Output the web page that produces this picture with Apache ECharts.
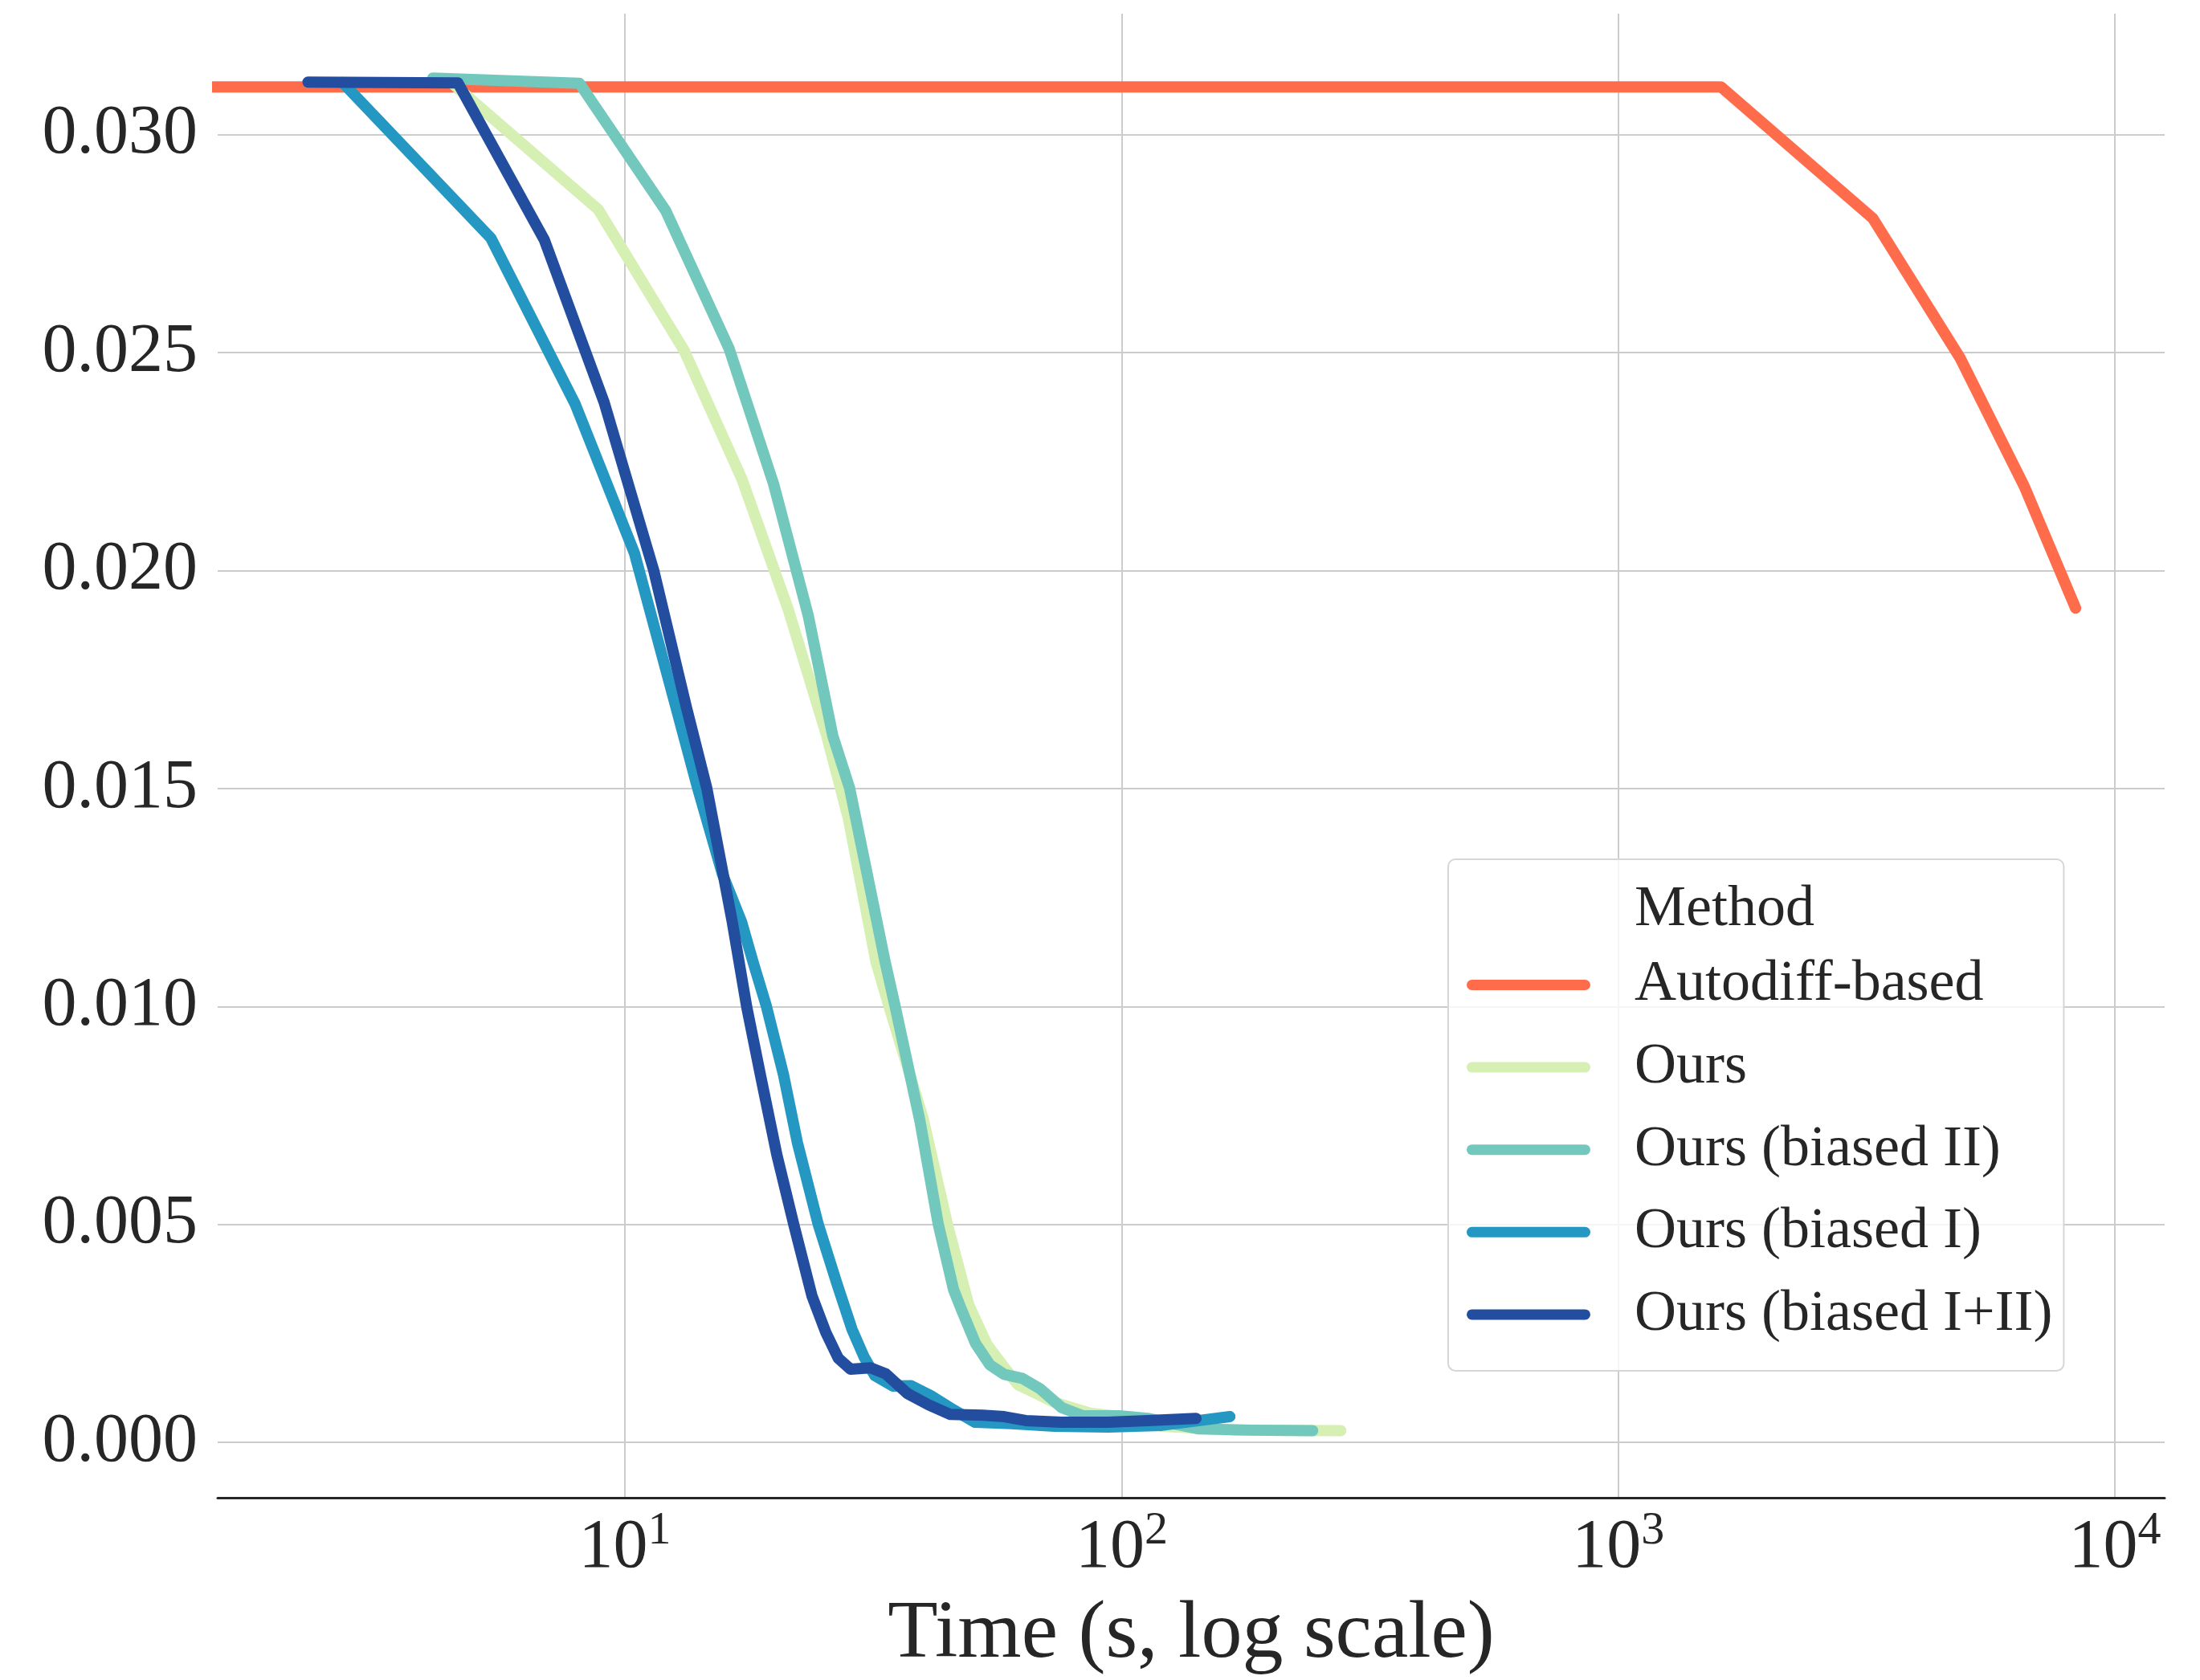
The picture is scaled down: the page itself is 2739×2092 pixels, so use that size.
<!DOCTYPE html>
<html>
<head>
<meta charset="utf-8">
<title>Loss vs. time</title>
<script src="https://cdn.jsdelivr.net/npm/echarts@6/dist/echarts.min.js"></script>
<style>
  html, body { margin: 0; padding: 0; background: #ffffff; }
  #chart { width: 2739px; height: 2092px; }
</style>
</head>
<body>
<div id="chart"></div>
<script>
// Method names, in legend / drawing order
const methods = ['Autodiff-based', 'Ours', 'Ours (biased II)', 'Ours (biased I)', 'Ours (biased I+II)'];

// Autodiff-based
const timeAutodiff = [1, 1611, 3258, 4886, 6575, 8337];
const lossAutodiff = [0.0311, 0.0311, 0.02808, 0.02487, 0.02193, 0.01914];

// Ours
const timeOurs = [4.45, 8.83, 13.16, 17.2, 21.33, 25.47, 28.17, 32.02, 34.02, 39.8, 44.6, 49.2, 53.6, 58.4, 61.9, 66.3, 73.2, 86.4, 102.1, 120.4, 168.2, 276.3];
const lossOurs = [0.03122, 0.02829, 0.02505, 0.0221, 0.0191, 0.01622, 0.01432, 0.01103, 0.0100, 0.00745, 0.0050, 0.00316, 0.00224, 0.00168, 0.00132, 0.00116, 0.00092, 0.00067, 0.00058, 0.00037, 0.00028, 0.00027];

// Ours (biased II)
const timeBiasedII = [4.1, 8.1, 12.08, 16.2, 19.92, 23.4, 26.2, 28.35, 33.4, 35.0, 39.25, 42.75, 45.87, 47.5, 50.8, 54.26, 58.0, 63.05, 68.5, 75.7, 83.6, 98.8, 112.8, 142.4, 182.7, 242.5];
const lossBiasedII = [0.0313, 0.03118, 0.02826, 0.0251, 0.02199, 0.01896, 0.01622, 0.0150, 0.01103, 0.0100, 0.00738, 0.0050, 0.00351, 0.00307, 0.00227, 0.00178, 0.00156, 0.00147, 0.00123, 0.0008, 0.00061, 0.00061, 0.00055, 0.00031, 0.00028, 0.00027];

// Ours (biased I)
const timeBiasedI = [2.70, 5.37, 7.94, 10.45, 12.68, 14.0, 15.7, 17.16, 18.1, 19.27, 20.86, 22.24, 24.5, 26.7, 28.66, 30.3, 31.85, 34.64, 37.66, 41.6, 45.96, 50.7, 60.0, 73.2, 94.0, 120.4, 165.2];
const lossBiasedI = [0.0312, 0.02763, 0.02382, 0.0204, 0.01685, 0.01502, 0.01305, 0.01195, 0.01103, 0.0100, 0.00843, 0.00688, 0.0050, 0.00365, 0.00259, 0.00196, 0.00153, 0.00129, 0.0013, 0.00105, 0.00074, 0.00046, 0.00043, 0.00037, 0.00035, 0.00039, 0.00059];

// Ours (biased I+II)
const timeBiasedI_II = [2.30, 4.61, 6.88, 9.08, 11.43, 13.3, 14.62, 16.44, 17.58, 18.74, 20.22, 21.87, 23.8, 25.38, 26.88, 28.46, 31.22, 33.53, 37.05, 40.88, 45.2, 52.45, 58.0, 64.1, 75.6, 94.0, 112.8, 141.2];
const lossBiasedI_II = [0.03121, 0.03119, 0.02759, 0.02386, 0.0200, 0.01686, 0.0150, 0.01195, 0.0100, 0.00843, 0.0066, 0.0050, 0.00336, 0.00252, 0.00193, 0.00168, 0.00171, 0.00157, 0.00112, 0.00086, 0.00064, 0.000625, 0.00059, 0.0005, 0.00046, 0.00046, 0.0005, 0.00055];

// Axis ranges
const timeMin = 1.513;
const timeMax = 12600;
const lossMin = -0.00127;
const lossMax = 0.03278;
const lossStep = 0.005;

const xAxisName = 'Time (s, log scale)';
const legendTitle = 'Method';

const colors = ['#ff6c4c', '#d6efb3', '#73c8bd', '#2498c2', '#234ea0'];
const FONT = '"Liberation Serif", "Times New Roman", serif';
const INK = '#262626';

const times = [timeAutodiff, timeOurs, timeBiasedII, timeBiasedI, timeBiasedI_II];
const losses = [lossAutodiff, lossOurs, lossBiasedII, lossBiasedI, lossBiasedI_II];

function pairs(xs, ys) {
  return xs.map(function (x, i) { return [x, ys[i]]; });
}

const series = methods.map(function (name, i) {
  return {
    name: name,
    type: 'line',
    data: pairs(times[i], losses[i]),
    symbol: 'none',
    showSymbol: false,
    clip: true,
    itemStyle: { color: colors[i], borderWidth: 0 },
    lineStyle: { color: colors[i], width: 14, cap: 'round', join: 'round' },
    emphasis: { disabled: true },
    z: 2 + i
  };
});

// rounded bar used as the legend swatch
const swatch = 'path://M6.5,0H147.5A6.5,6.5,0,0,1,147.5,13H6.5A6.5,6.5,0,0,1,6.5,0Z';

const chart = echarts.init(document.getElementById('chart'), null, { renderer: 'canvas' });

chart.setOption({
  animation: false,
  backgroundColor: '#ffffff',
  grid: { left: 271, right: 44, top: 17, bottom: 223, containLabel: false },
  title: {
    text: legendTitle,
    left: 2035,
    top: 1097,
    padding: 0,
    textStyle: { fontFamily: FONT, fontSize: 72, fontWeight: 'normal', color: INK, lineHeight: 72 }
  },
  legend: {
    data: methods,
    orient: 'vertical',
    left: 1803,
    top: 1070,
    padding: [110.5, 14, 24, 23],
    itemWidth: 154,
    itemHeight: 13,
    itemGap: 10.6,
    icon: swatch,
    itemStyle: { borderWidth: 0 },
    selectedMode: false,
    backgroundColor: 'rgba(255,255,255,0.8)',
    borderColor: '#d6d6d6',
    borderWidth: 2,
    borderRadius: 9,
    textStyle: { fontFamily: FONT, fontSize: 72, color: INK, lineHeight: 72, padding: [20, 0, 0, 50] }
  },
  xAxis: {
    type: 'log',
    logBase: 10,
    min: timeMin,
    max: timeMax,
    name: xAxisName,
    nameLocation: 'middle',
    nameGap: 120,
    nameTextStyle: { fontFamily: FONT, fontSize: 102, color: INK, lineHeight: 102 },
    axisLine: { show: true, onZero: false, lineStyle: { color: INK, width: 3 } },
    axisTick: { show: false },
    splitLine: { show: true, showMinLine: false, showMaxLine: false, lineStyle: { color: '#cccccc', width: 2 } },
    minorTick: { show: false },
    axisLabel: {
      margin: 13,
      showMinLabel: false,
      showMaxLabel: false,
      formatter: function (value) {
        const e = Math.round(Math.log(value) / Math.LN10);
        return '{base|10}{exp|' + e + '}';
      },
      rich: {
        base: { fontFamily: FONT, fontSize: 86, color: INK, lineHeight: 100 },
        exp: { fontFamily: FONT, fontSize: 58, color: INK, lineHeight: 30, verticalAlign: 'top' }
      }
    }
  },
  yAxis: {
    type: 'value',
    min: lossMin,
    max: lossMax,
    splitNumber: 5,
    minInterval: lossStep,
    maxInterval: lossStep,
    axisLine: { show: false },
    axisTick: { show: false },
    splitLine: { show: true, showMinLine: false, showMaxLine: false, lineStyle: { color: '#cccccc', width: 2 } },
    axisLabel: {
      margin: 25,
      showMinLabel: false,
      showMaxLabel: false,
      fontFamily: FONT,
      fontSize: 86,
      color: INK,
      padding: [12, 0, 0, 0],
      formatter: function (v) { return v.toFixed(3); }
    }
  },
  series: series
});
</script>
</body>
</html>
